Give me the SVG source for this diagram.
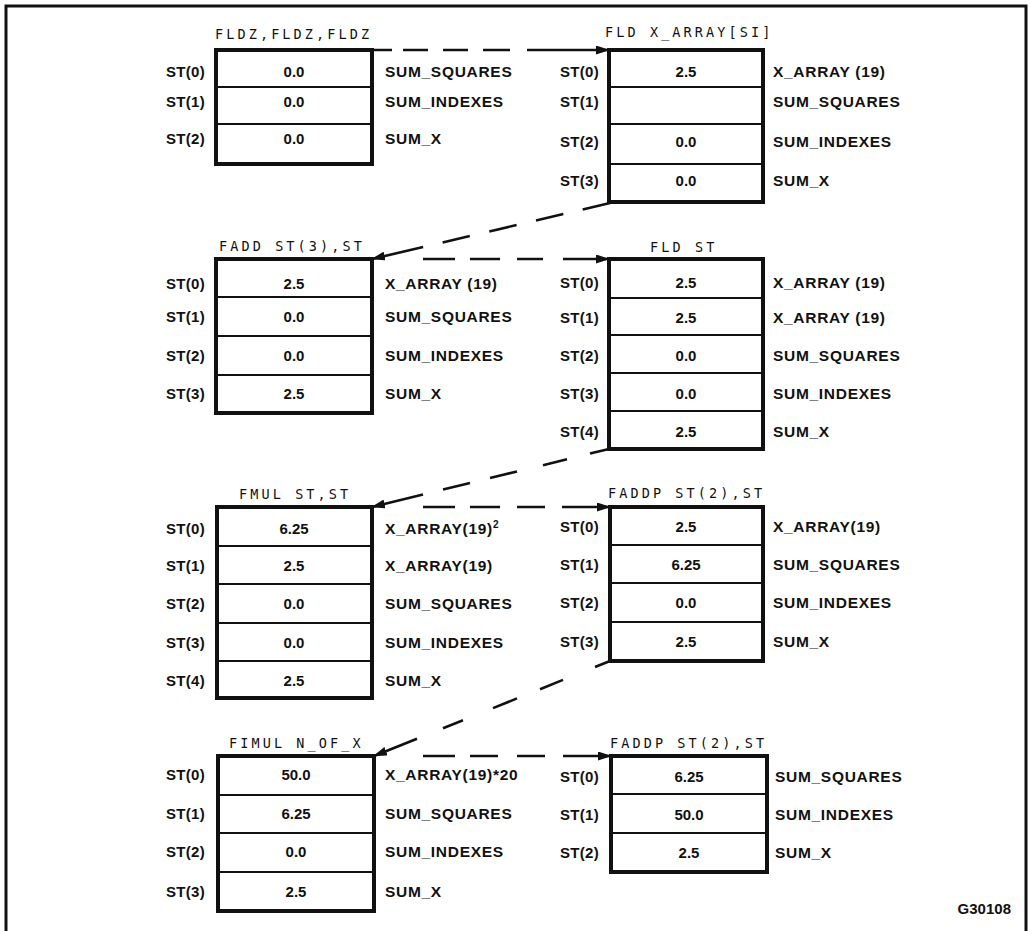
<svg xmlns="http://www.w3.org/2000/svg" width="1030" height="931" viewBox="0 0 1030 931">
<style>
.frame{fill:none;stroke:#111;stroke-width:3}
.box{fill:#fff;stroke:#111;stroke-width:4}
.div{stroke:#111;stroke-width:2}
.st{font-family:"Liberation Sans",Arial,sans-serif;font-weight:bold;font-size:15px;fill:#111;letter-spacing:0.3px;text-anchor:end}
.val{font-family:"Liberation Sans",Arial,sans-serif;font-weight:bold;font-size:15px;fill:#111;text-anchor:middle}
.nm{font-family:"Liberation Sans",Arial,sans-serif;font-weight:bold;font-size:15.5px;fill:#111;letter-spacing:0.7px}
.ttl{font-family:"DejaVu Sans Mono","Liberation Mono",monospace;font-size:13.5px;fill:#111;letter-spacing:3.1px}
.sup{font-size:10px}
.dash{fill:none;stroke:#111;stroke-width:2.6}
.arr{fill:none;stroke:#111;stroke-width:2.6;marker-end:url(#ah)}
.code{font-family:"Liberation Sans",Arial,sans-serif;font-weight:bold;font-size:15px;fill:#111;text-anchor:end}
</style>
<defs>
<marker id="ah" markerWidth="14" markerHeight="9" refX="13" refY="4.5" orient="auto" markerUnits="userSpaceOnUse">
<path d="M0,0 L14,4.5 L0,9 z" fill="#111"/>
</marker>
</defs>
<rect x="0" y="0" width="1030" height="931" fill="#fff"/>
<path class="frame" d="M6,940 V6 H1026 V940"/>

<g id="connectors">
<path class="dash" d="M372,50H392M403,50H428M443,50H468M483,50H510"/>
<line class="arr" x1="527" y1="50" x2="609" y2="50"/>
<path class="dash" d="M610,203L582.7,209.4M563.3,214L536,220.4M516.6,225L489.3,231.4M469.8,236L442.6,242.4"/>
<line class="arr" x1="423.1" y1="247" x2="372" y2="259"/>
<path class="dash" d="M423,259H455M470,259H500M517,259H543"/>
<line class="arr" x1="563" y1="259" x2="609" y2="259"/>
<path class="dash" d="M609,449L590,453.6M567,459.3L543,465.2M517,471.5L490,478.1M470,483L443,489.6"/>
<line class="arr" x1="423" y1="494.5" x2="372" y2="507"/>
<path class="dash" d="M423,507H455M470,507H500M517,507H545"/>
<line class="arr" x1="562" y1="507" x2="610" y2="507"/>
<path class="dash" d="M610,661L595,667M563,679.9L540,689.2M517,698.4L493,708.1M463,720.2L443,728.2"/>
<line class="arr" x1="417" y1="738.7" x2="374" y2="756"/>
<path class="dash" d="M423,756H455M470,756H498M517,756H545"/>
<line class="arr" x1="563" y1="756" x2="611" y2="756"/>
</g>

<g id="node-fldz">
<text class="ttl" x="215" y="39">FLDZ,FLDZ,FLDZ</text>
<rect class="box" x="216" y="50" width="156" height="114"/>
<line class="div" x1="216" y1="87" x2="372" y2="87"/>
<line class="div" x1="216" y1="124" x2="372" y2="124"/>
<text class="st" x="205" y="77">ST(0)</text><text class="val" x="294" y="77">0.0</text><text class="nm" x="385" y="77">SUM_SQUARES</text>
<text class="st" x="205" y="107">ST(1)</text><text class="val" x="294" y="107">0.0</text><text class="nm" x="385" y="107">SUM_INDEXES</text>
<text class="st" x="205" y="144">ST(2)</text><text class="val" x="294" y="144">0.0</text><text class="nm" x="385" y="144">SUM_X</text>
</g>

<g id="node-fld-xarray">
<text class="ttl" x="605" y="37">FLD X_ARRAY[SI]</text>
<rect class="box" x="609" y="50" width="154" height="152"/>
<line class="div" x1="609" y1="87" x2="763" y2="87"/>
<line class="div" x1="609" y1="124" x2="763" y2="124"/>
<line class="div" x1="609" y1="164" x2="763" y2="164"/>
<text class="st" x="599" y="77">ST(0)</text><text class="val" x="686" y="77">2.5</text><text class="nm" x="773" y="77">X_ARRAY (19)</text>
<text class="st" x="599" y="107">ST(1)</text><text class="nm" x="773" y="107">SUM_SQUARES</text>
<text class="st" x="599" y="147">ST(2)</text><text class="val" x="686" y="147">0.0</text><text class="nm" x="773" y="147">SUM_INDEXES</text>
<text class="st" x="599" y="186">ST(3)</text><text class="val" x="686" y="186">0.0</text><text class="nm" x="773" y="186">SUM_X</text>
</g>

<g id="node-fadd">
<text class="ttl" x="219" y="251">FADD ST(3),ST</text>
<rect class="box" x="216" y="259" width="156" height="154"/>
<line class="div" x1="216" y1="297" x2="372" y2="297"/>
<line class="div" x1="216" y1="336" x2="372" y2="336"/>
<line class="div" x1="216" y1="375" x2="372" y2="375"/>
<text class="st" x="205" y="289">ST(0)</text><text class="val" x="294" y="289">2.5</text><text class="nm" x="385" y="289">X_ARRAY (19)</text>
<text class="st" x="205" y="322">ST(1)</text><text class="val" x="294" y="322">0.0</text><text class="nm" x="385" y="322">SUM_SQUARES</text>
<text class="st" x="205" y="361">ST(2)</text><text class="val" x="294" y="361">0.0</text><text class="nm" x="385" y="361">SUM_INDEXES</text>
<text class="st" x="205" y="399">ST(3)</text><text class="val" x="294" y="399">2.5</text><text class="nm" x="385" y="399">SUM_X</text>
</g>

<g id="node-fld-st">
<text class="ttl" x="650" y="252">FLD ST</text>
<rect class="box" x="609" y="259" width="154" height="190"/>
<line class="div" x1="609" y1="298" x2="763" y2="298"/>
<line class="div" x1="609" y1="335" x2="763" y2="335"/>
<line class="div" x1="609" y1="373" x2="763" y2="373"/>
<line class="div" x1="609" y1="411" x2="763" y2="411"/>
<text class="st" x="599" y="288">ST(0)</text><text class="val" x="686" y="288">2.5</text><text class="nm" x="773" y="288">X_ARRAY (19)</text>
<text class="st" x="599" y="323">ST(1)</text><text class="val" x="686" y="323">2.5</text><text class="nm" x="773" y="323">X_ARRAY (19)</text>
<text class="st" x="599" y="361">ST(2)</text><text class="val" x="686" y="361">0.0</text><text class="nm" x="773" y="361">SUM_SQUARES</text>
<text class="st" x="599" y="399">ST(3)</text><text class="val" x="686" y="399">0.0</text><text class="nm" x="773" y="399">SUM_INDEXES</text>
<text class="st" x="599" y="437">ST(4)</text><text class="val" x="686" y="437">2.5</text><text class="nm" x="773" y="437">SUM_X</text>
</g>

<g id="node-fmul">
<text class="ttl" x="239" y="499">FMUL ST,ST</text>
<rect class="box" x="217" y="507" width="155" height="191"/>
<line class="div" x1="217" y1="546" x2="372" y2="546"/>
<line class="div" x1="217" y1="584" x2="372" y2="584"/>
<line class="div" x1="217" y1="623" x2="372" y2="623"/>
<line class="div" x1="217" y1="661" x2="372" y2="661"/>
<text class="st" x="205" y="534">ST(0)</text><text class="val" x="294" y="534">6.25</text><text class="nm" x="385" y="534">X_ARRAY(19)<tspan class="sup" dy="-6">2</tspan></text>
<text class="st" x="205" y="571">ST(1)</text><text class="val" x="294" y="571">2.5</text><text class="nm" x="385" y="571">X_ARRAY(19)</text>
<text class="st" x="205" y="609">ST(2)</text><text class="val" x="294" y="609">0.0</text><text class="nm" x="385" y="609">SUM_SQUARES</text>
<text class="st" x="205" y="648">ST(3)</text><text class="val" x="294" y="648">0.0</text><text class="nm" x="385" y="648">SUM_INDEXES</text>
<text class="st" x="205" y="686">ST(4)</text><text class="val" x="294" y="686">2.5</text><text class="nm" x="385" y="686">SUM_X</text>
</g>

<g id="node-faddp-1">
<text class="ttl" x="608" y="498">FADDP ST(2),ST</text>
<rect class="box" x="610" y="507" width="153" height="154"/>
<line class="div" x1="610" y1="545" x2="763" y2="545"/>
<line class="div" x1="610" y1="583" x2="763" y2="583"/>
<line class="div" x1="610" y1="622" x2="763" y2="622"/>
<text class="st" x="599" y="532">ST(0)</text><text class="val" x="686" y="532">2.5</text><text class="nm" x="773" y="532">X_ARRAY(19)</text>
<text class="st" x="599" y="570">ST(1)</text><text class="val" x="686" y="570">6.25</text><text class="nm" x="773" y="570">SUM_SQUARES</text>
<text class="st" x="599" y="608">ST(2)</text><text class="val" x="686" y="608">0.0</text><text class="nm" x="773" y="608">SUM_INDEXES</text>
<text class="st" x="599" y="647">ST(3)</text><text class="val" x="686" y="647">2.5</text><text class="nm" x="773" y="647">SUM_X</text>
</g>

<g id="node-fimul">
<text class="ttl" x="229" y="748">FIMUL N_OF_X</text>
<rect class="box" x="218" y="756" width="156" height="155"/>
<line class="div" x1="218" y1="795" x2="374" y2="795"/>
<line class="div" x1="218" y1="833" x2="374" y2="833"/>
<line class="div" x1="218" y1="872" x2="374" y2="872"/>
<text class="st" x="205" y="780">ST(0)</text><text class="val" x="296" y="780">50.0</text><text class="nm" x="385" y="780">X_ARRAY(19)*20</text>
<text class="st" x="205" y="819">ST(1)</text><text class="val" x="296" y="819">6.25</text><text class="nm" x="385" y="819">SUM_SQUARES</text>
<text class="st" x="205" y="857">ST(2)</text><text class="val" x="296" y="857">0.0</text><text class="nm" x="385" y="857">SUM_INDEXES</text>
<text class="st" x="205" y="897">ST(3)</text><text class="val" x="296" y="897">2.5</text><text class="nm" x="385" y="897">SUM_X</text>
</g>

<g id="node-faddp-2">
<text class="ttl" x="610" y="748">FADDP ST(2),ST</text>
<rect class="box" x="611" y="756" width="156" height="116"/>
<line class="div" x1="611" y1="794" x2="767" y2="794"/>
<line class="div" x1="611" y1="833" x2="767" y2="833"/>
<text class="st" x="599" y="782">ST(0)</text><text class="val" x="689" y="782">6.25</text><text class="nm" x="775" y="782">SUM_SQUARES</text>
<text class="st" x="599" y="820">ST(1)</text><text class="val" x="689" y="820">50.0</text><text class="nm" x="775" y="820">SUM_INDEXES</text>
<text class="st" x="599" y="858">ST(2)</text><text class="val" x="689" y="858">2.5</text><text class="nm" x="775" y="858">SUM_X</text>
</g>

<text class="code" x="1011" y="914">G30108</text>
</svg>
